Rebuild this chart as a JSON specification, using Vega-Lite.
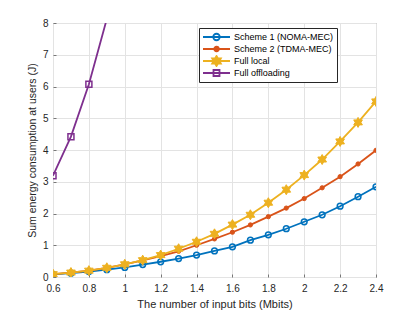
{
  "$schema": "https://vega.github.io/schema/vega-lite/v6.json",
  "width": 323,
  "height": 254,
  "autosize": {"type": "none"},
  "padding": {"left": 53, "top": 23, "right": 39, "bottom": 35},
  "background": "white",
  "config": {
    "font": "Liberation Sans",
    "view": {"stroke": "#8a8a8a", "strokeWidth": 1},
    "axis": {
      "labelFont": "Liberation Sans",
      "labelFontSize": 10,
      "labelColor": "#262626",
      "labelFlush": false,
      "titleFont": "Liberation Sans",
      "titleColor": "#262626",
      "titleFontWeight": "normal",
      "grid": true,
      "gridColor": "#e3e3e3",
      "gridWidth": 1,
      "domain": false,
      "ticks": true,
      "tickColor": "#777777",
      "tickSize": -3
    }
  },
  "data": {
    "values": [
      {"x": 0.6, "y": 0.08, "series": "Scheme 1 (NOMA-MEC)"},
      {"x": 0.7, "y": 0.12, "series": "Scheme 1 (NOMA-MEC)"},
      {"x": 0.8, "y": 0.17, "series": "Scheme 1 (NOMA-MEC)"},
      {"x": 0.9, "y": 0.23, "series": "Scheme 1 (NOMA-MEC)"},
      {"x": 1.0, "y": 0.30, "series": "Scheme 1 (NOMA-MEC)"},
      {"x": 1.1, "y": 0.39, "series": "Scheme 1 (NOMA-MEC)"},
      {"x": 1.2, "y": 0.48, "series": "Scheme 1 (NOMA-MEC)"},
      {"x": 1.3, "y": 0.58, "series": "Scheme 1 (NOMA-MEC)"},
      {"x": 1.4, "y": 0.69, "series": "Scheme 1 (NOMA-MEC)"},
      {"x": 1.5, "y": 0.82, "series": "Scheme 1 (NOMA-MEC)"},
      {"x": 1.6, "y": 0.95, "series": "Scheme 1 (NOMA-MEC)"},
      {"x": 1.7, "y": 1.16, "series": "Scheme 1 (NOMA-MEC)"},
      {"x": 1.8, "y": 1.33, "series": "Scheme 1 (NOMA-MEC)"},
      {"x": 1.9, "y": 1.52, "series": "Scheme 1 (NOMA-MEC)"},
      {"x": 2.0, "y": 1.74, "series": "Scheme 1 (NOMA-MEC)"},
      {"x": 2.1, "y": 1.96, "series": "Scheme 1 (NOMA-MEC)"},
      {"x": 2.2, "y": 2.23, "series": "Scheme 1 (NOMA-MEC)"},
      {"x": 2.3, "y": 2.53, "series": "Scheme 1 (NOMA-MEC)"},
      {"x": 2.4, "y": 2.84, "series": "Scheme 1 (NOMA-MEC)"},
      {"x": 0.6, "y": 0.09, "series": "Scheme 2 (TDMA-MEC)"},
      {"x": 0.7, "y": 0.14, "series": "Scheme 2 (TDMA-MEC)"},
      {"x": 0.8, "y": 0.20, "series": "Scheme 2 (TDMA-MEC)"},
      {"x": 0.9, "y": 0.29, "series": "Scheme 2 (TDMA-MEC)"},
      {"x": 1.0, "y": 0.40, "series": "Scheme 2 (TDMA-MEC)"},
      {"x": 1.1, "y": 0.52, "series": "Scheme 2 (TDMA-MEC)"},
      {"x": 1.2, "y": 0.66, "series": "Scheme 2 (TDMA-MEC)"},
      {"x": 1.3, "y": 0.81, "series": "Scheme 2 (TDMA-MEC)"},
      {"x": 1.4, "y": 1.00, "series": "Scheme 2 (TDMA-MEC)"},
      {"x": 1.5, "y": 1.20, "series": "Scheme 2 (TDMA-MEC)"},
      {"x": 1.6, "y": 1.41, "series": "Scheme 2 (TDMA-MEC)"},
      {"x": 1.7, "y": 1.64, "series": "Scheme 2 (TDMA-MEC)"},
      {"x": 1.8, "y": 1.90, "series": "Scheme 2 (TDMA-MEC)"},
      {"x": 1.9, "y": 2.17, "series": "Scheme 2 (TDMA-MEC)"},
      {"x": 2.0, "y": 2.47, "series": "Scheme 2 (TDMA-MEC)"},
      {"x": 2.1, "y": 2.81, "series": "Scheme 2 (TDMA-MEC)"},
      {"x": 2.2, "y": 3.16, "series": "Scheme 2 (TDMA-MEC)"},
      {"x": 2.3, "y": 3.56, "series": "Scheme 2 (TDMA-MEC)"},
      {"x": 2.4, "y": 3.99, "series": "Scheme 2 (TDMA-MEC)"},
      {"x": 0.6, "y": 0.09, "series": "Full local"},
      {"x": 0.7, "y": 0.14, "series": "Full local"},
      {"x": 0.8, "y": 0.20, "series": "Full local"},
      {"x": 0.9, "y": 0.29, "series": "Full local"},
      {"x": 1.0, "y": 0.40, "series": "Full local"},
      {"x": 1.1, "y": 0.53, "series": "Full local"},
      {"x": 1.2, "y": 0.69, "series": "Full local"},
      {"x": 1.3, "y": 0.89, "series": "Full local"},
      {"x": 1.4, "y": 1.11, "series": "Full local"},
      {"x": 1.5, "y": 1.36, "series": "Full local"},
      {"x": 1.6, "y": 1.65, "series": "Full local"},
      {"x": 1.7, "y": 1.96, "series": "Full local"},
      {"x": 1.8, "y": 2.34, "series": "Full local"},
      {"x": 1.9, "y": 2.75, "series": "Full local"},
      {"x": 2.0, "y": 3.21, "series": "Full local"},
      {"x": 2.1, "y": 3.70, "series": "Full local"},
      {"x": 2.2, "y": 4.27, "series": "Full local"},
      {"x": 2.3, "y": 4.87, "series": "Full local"},
      {"x": 2.4, "y": 5.53, "series": "Full local"},
      {"x": 0.6, "y": 3.19, "series": "Full offloading"},
      {"x": 0.7, "y": 4.42, "series": "Full offloading"},
      {"x": 0.8, "y": 6.07, "series": "Full offloading"},
      {"x": 0.9, "y": 8.13, "series": "Full offloading"},
      {"x": 1.0, "y": 10.6, "series": "Full offloading"}
    ]
  },
  "encoding": {
    "x": {
      "field": "x", "type": "quantitative",
      "scale": {"domain": [0.6, 2.4], "nice": false, "zero": false},
      "axis": {"values": [0.6, 0.8, 1, 1.2, 1.4, 1.6, 1.8, 2, 2.2, 2.4], "format": "~g", "title": "The number of input bits (Mbits)", "titleFontSize": 11, "titleFontWeight": "normal", "labelPadding": 9, "titlePadding": 5}
    },
    "y": {
      "field": "y", "type": "quantitative",
      "scale": {"domain": [0, 8], "nice": false},
      "axis": {"values": [0, 1, 2, 3, 4, 5, 6, 7, 8], "title": "Sum energy consumption at users (J)", "titleFontSize": 10.5, "titleFontWeight": "normal", "labelPadding": 8, "titlePadding": 5}
    }
  },
  "layer": [
    {
      "transform": [{"filter": "datum.series === 'Scheme 1 (NOMA-MEC)'"}],
      "mark": {"type": "line", "clip": true, "strokeWidth": 1.8},
      "encoding": {
        "color": {
          "field": "series", "type": "nominal",
          "scale": {"domain": ["Scheme 1 (NOMA-MEC)", "Scheme 2 (TDMA-MEC)", "Full local", "Full offloading"], "range": ["#0072BD", "#D95319", "#EDB120", "#7E2F8E"]},
          "legend": {
            "title": null, "orient": "none", "legendX": 146, "legendY": 5,
            "strokeColor": "#262626", "fillColor": "white", "padding": 3,
            "symbolSize": 729, "clipHeight": 12, "rowPadding": 0,
            "labelFontSize": 9, "labelOffset": 3, "labelColor": "#000000",
            "symbolStrokeWidth": 1.8,
            "encode": {
              "symbols": {
                "update": {
                  "shape": {"signal": "datum.value === 'Scheme 1 (NOMA-MEC)' ? 'M-1,0H1M0.24,0A0.24,0.24 0 1,1 -0.24,0A0.24,0.24 0 1,1 0.24,0Z' : datum.value === 'Scheme 2 (TDMA-MEC)' ? 'M-1,0H1M0.167,0A0.167,0.167 0 1,1 -0.167,0A0.167,0.167 0 1,1 0.167,0Z' : datum.value === 'Full local' ? 'M-1,0H1M0,-0.37L0.107,-0.185L0.32,-0.185L0.214,0L0.32,0.185L0.107,0.185L0,0.37L-0.107,0.185L-0.32,0.185L-0.214,0L-0.32,-0.185L-0.107,-0.185Z' : 'M-1,0H1M-0.222,-0.222H0.222V0.222H-0.222Z'"},
                  "fill": {"signal": "datum.value === 'Scheme 2 (TDMA-MEC)' ? '#D95319' : datum.value === 'Full local' ? '#EDB120' : 'transparent'"}
                }
              }
            }
          }
        }
      }
    },
    {
      "transform": [{"filter": "datum.series === 'Scheme 1 (NOMA-MEC)'"}],
      "mark": {"type": "point", "clip": true, "shape": "circle", "size": 33, "filled": false, "stroke": "#0072BD", "strokeWidth": 1.5, "opacity": 1}
    },
    {
      "transform": [{"filter": "datum.series === 'Scheme 2 (TDMA-MEC)'"}],
      "mark": {"type": "line", "clip": true, "strokeWidth": 1.8},
      "encoding": {"color": {"field": "series", "type": "nominal"}}
    },
    {
      "transform": [{"filter": "datum.series === 'Scheme 2 (TDMA-MEC)'"}],
      "mark": {"type": "point", "clip": true, "shape": "circle", "size": 18, "filled": true, "fill": "#D95319", "stroke": "#D95319", "strokeWidth": 1, "opacity": 1}
    },
    {
      "transform": [{"filter": "datum.series === 'Full local'"}],
      "mark": {"type": "line", "clip": true, "strokeWidth": 1.8},
      "encoding": {"color": {"field": "series", "type": "nominal"}}
    },
    {
      "transform": [{"filter": "datum.series === 'Full local'"}],
      "mark": {"type": "point", "clip": true, "shape": "M0,-1L0.289,-0.5L0.866,-0.5L0.577,0L0.866,0.5L0.289,0.5L0,1L-0.289,0.5L-0.866,0.5L-0.577,0L-0.866,-0.5L-0.289,-0.5Z", "size": 100, "filled": true, "fill": "#EDB120", "stroke": "#EDB120", "strokeWidth": 1, "opacity": 1}
    },
    {
      "transform": [{"filter": "datum.series === 'Full offloading'"}],
      "mark": {"type": "line", "clip": true, "strokeWidth": 1.8},
      "encoding": {"color": {"field": "series", "type": "nominal"}}
    },
    {
      "transform": [{"filter": "datum.series === 'Full offloading'"}],
      "mark": {"type": "point", "clip": true, "shape": "square", "size": 36, "filled": false, "stroke": "#7E2F8E", "strokeWidth": 1.5, "opacity": 1}
    }
  ]
}
